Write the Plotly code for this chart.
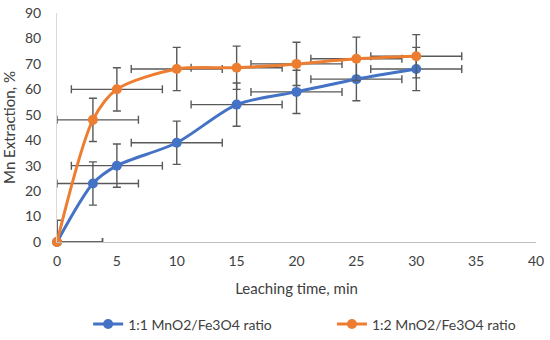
import plotly.graph_objects as go

time_min = [0, 3, 5, 10, 15, 20, 25, 30]
mn_11 = [0, 23, 30, 39, 54, 59, 64, 68]
mn_12 = [0, 48, 60, 68, 68.5, 70, 72, 73]
y_err = [8.5] * 8
x_err_plus = [3.8] * 8
x_err_minus = [min(3.8, t) for t in time_min]

names = ["1:1 MnO2/Fe3O4 ratio", "1:2 MnO2/Fe3O4 ratio"]
colors = ["#4472C4", "#ED7D31"]
legends = ["legend", "legend2"]
ERR = "#595959"

fig = go.Figure()
for ys, name, col, lg in zip([mn_11, mn_12], names, colors, legends):
    fig.add_trace(go.Scatter(
        x=time_min, y=ys, name=name, mode="lines+markers", legend=lg,
        line=dict(color=col, width=3, shape="spline", smoothing=0.8),
        marker=dict(color=col, size=10),
        cliponaxis=False,
        error_y=dict(type="data", array=y_err, arrayminus=[min(8.5, v) for v in ys],
                     color=ERR, thickness=1.4, width=4),
        error_x=dict(type="data", array=x_err_plus, arrayminus=x_err_minus,
                     color=ERR, thickness=1.4, width=4),
    ))

leg_common = dict(orientation="h", yanchor="middle", y=-0.36, xanchor="left",
                  font=dict(size=14, color="#404040"), itemwidth=30,
                  bgcolor="rgba(0,0,0,0)")
fig.update_layout(
    width=550, height=340,
    margin=dict(l=57, r=14, t=13, b=98, autoexpand=False),
    paper_bgcolor="white", plot_bgcolor="white",
    font=dict(family="Lato, Open Sans, sans-serif", size=14, color="#404040"),
    showlegend=True,
    legend=dict(x=0.065, **leg_common),
    legend2=dict(x=0.574, **leg_common),
)
fig.update_xaxes(range=[0, 40], dtick=5, showgrid=False, zeroline=False,
                 showline=True, linecolor="#BFBFBF", linewidth=1, ticks="",
                 ticklabelstandoff=6, automargin=False,
                 title=dict(text="Leaching time, min",
                            font=dict(size=15, color="#404040")),
                 tickfont=dict(size=14, color="#404040"))
fig.update_yaxes(range=[0, 90], dtick=10, showgrid=False, zeroline=False,
                 showline=True, linecolor="#D9D9D9", linewidth=1, ticks="",
                 ticklabelstandoff=12, automargin=False,
                 title=dict(text="Mn Extraction, %",
                            font=dict(size=15, color="#404040")),
                 tickfont=dict(size=14, color="#404040"))

fig.write_html("out.html", config={"displayModeBar": False},
               post_script="document.body.style.margin='0';document.body.style.padding='0';")
